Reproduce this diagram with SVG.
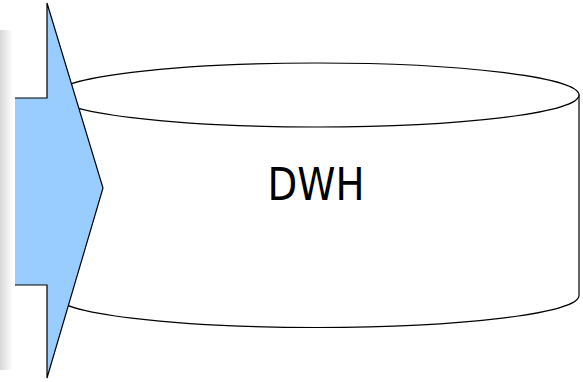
<svg xmlns="http://www.w3.org/2000/svg" width="583" height="382" viewBox="0 0 583 382">
<style>
.line{fill:none;stroke:#000;stroke-width:1.2}
.label{font-family:"DejaVu Sans",sans-serif;font-size:45px;fill:#000}
</style>
<defs>
<linearGradient id="shade" x1="0" y1="0" x2="1" y2="0">
<stop offset="0" stop-color="#d8d8d8"/>
<stop offset="1" stop-color="#ffffff"/>
</linearGradient>
</defs>
<rect width="583" height="382" fill="#fff"/>
<rect x="0" y="30" width="13" height="340" fill="url(#shade)"/>
<g id="dwh">
<path d="M55,95 L55,295.5 A262,32 0 0 0 579,295.5 L579,95 Z" fill="#fff" stroke="#000" stroke-width="1.2"/>
<ellipse cx="317" cy="95" rx="262" ry="32" fill="#fff" stroke="#000" stroke-width="1.2"/>
<text class="label" x="316" y="200" text-anchor="middle" textLength="97" lengthAdjust="spacingAndGlyphs">DWH</text>
</g>
<g id="arrow">
<polygon points="15,98 47,98 47,3 103,188 47,378 47,285 15,285" fill="#99ccff" stroke="none"/>
<polyline class="line" points="15,98 47,98 47,3 103,188 47,378 47,285 15,285" stroke-linejoin="miter"/>
</g>
<g id="connectors"></g>
</svg>
